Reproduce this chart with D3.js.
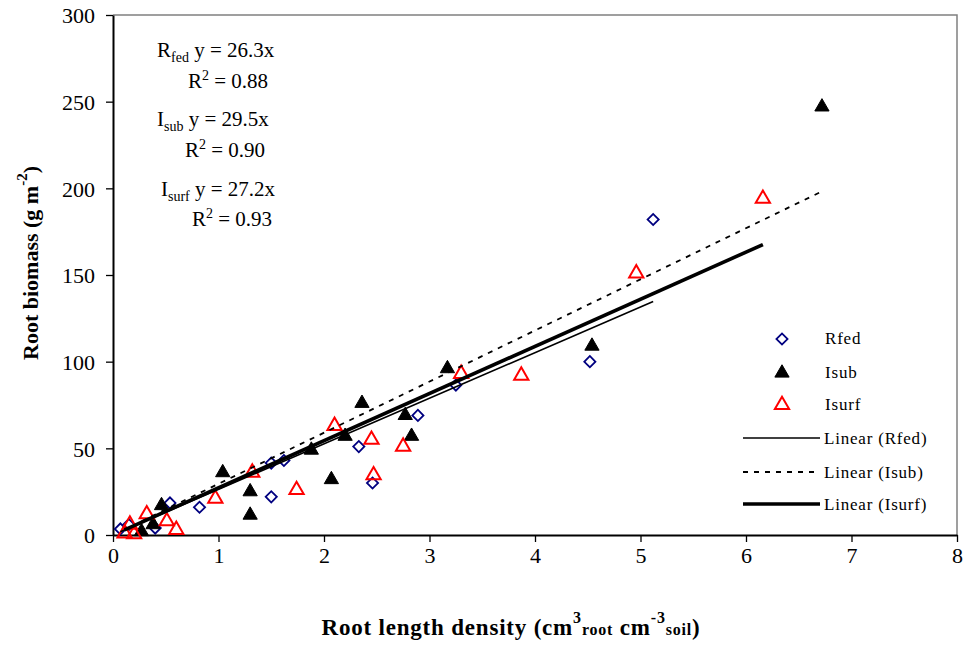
<!DOCTYPE html>
<html>
<head>
<meta charset="utf-8">
<script src="https://cdn.jsdelivr.net/npm/d3@7"></script>
<style>
  html, body { margin: 0; padding: 0; background: #fff; }
  svg { display: block; }
  svg text { font-family: "Liberation Serif", "Times New Roman", serif; fill: #000; }
</style>
</head>
<body>
<svg id="chart" width="967" height="645"></svg>
<script>
// ---- Data ----
const rfedX = [0.07, 0.15, 0.40, 0.54, 0.82, 1.50, 1.50, 1.62, 2.33, 2.46, 2.89, 3.25, 4.52, 5.12];
const rfedY = [3.5, 6, 4, 18.5, 16, 41.5, 22, 43, 51, 30, 69, 86.5, 100, 182];

const isubX = [0.27, 0.38, 0.46, 1.04, 1.30, 1.30, 1.88, 2.07, 2.20, 2.36, 2.77, 2.83, 3.17, 4.54, 6.72];
const isubY = [2, 6, 17, 36, 25, 11.5, 49, 32, 57, 76, 69, 57, 96, 109, 247];

const isurfX = [0.11, 0.16, 0.20, 0.32, 0.51, 0.60, 0.97, 1.32, 1.74, 2.10, 2.45, 2.47, 2.75, 3.30, 3.87, 4.96, 6.16];
const isurfY = [1, 6, 0.5, 12, 8, 3, 21, 36, 26, 63, 55, 34.5, 51, 93, 92, 151, 194];

const slopes = { rfed: 26.3, isub: 29.5, isurf: 27.2 };
const r2 = { rfed: "0.88", isub: "0.90", isurf: "0.93" };

const xTicks = [0, 1, 2, 3, 4, 5, 6, 7, 8];
const yTicks = [0, 50, 100, 150, 200, 250, 300];

// ---- Scales ----
const svg = d3.select("#chart");
const x = d3.scaleLinear().domain([0, 8]).range([113, 957]);
const y = d3.scaleLinear().domain([0, 300]).range([535, 15]);

// frame (top & right)
svg.append("path")
  .attr("d", `M${x(0)},${y(300)}H${x(8)}V${y(0)}`)
  .attr("fill", "none").attr("stroke", "#808080").attr("stroke-width", 1.5);

// axes
const xAxis = svg.append("g").attr("transform", `translate(0,${y(0)})`)
  .call(d3.axisBottom(x).tickValues(xTicks).tickSize(7).tickSizeOuter(0).tickFormat(d3.format("d")));
const yAxis = svg.append("g").attr("transform", `translate(${x(0)},0)`)
  .call(d3.axisLeft(y).tickValues(yTicks).tickSize(7).tickSizeOuter(0).tickFormat(d3.format("d")));
[xAxis, yAxis].forEach(g => {
  g.attr("font-family", null).attr("font-size", null);
  g.select(".domain").attr("stroke", "#000").attr("stroke-width", 2);
  g.selectAll(".tick line").attr("stroke", "#000").attr("stroke-width", 1.3);
  g.selectAll(".tick text")
    .style("font-family", "'Liberation Serif', serif").style("font-size", "22px").attr("fill", "#000");
});
xAxis.selectAll(".tick text").attr("dy", null).attr("y", 28);
yAxis.selectAll(".tick text").attr("x", -18).attr("dy", "0.35em");

// ---- markers ----
const diamond = d3.symbol().type(d3.symbolSquare).size(62);
const tri = d3.symbol().type(d3.symbolTriangle).size(88);

const gPts = svg.append("g");
gPts.selectAll(".rf").data(d3.zip(rfedX, rfedY)).join("path")
  .attr("d", diamond())
  .attr("transform", d => `translate(${x(d[0])},${y(d[1])}) rotate(45)`)
  .attr("fill", "#fff").attr("stroke", "#000080").attr("stroke-width", 1.8);
gPts.selectAll(".is").data(d3.zip(isubX, isubY)).join("path")
  .attr("d", tri())
  .attr("transform", d => `translate(${x(d[0])},${y(d[1])})`)
  .attr("fill", "#000").attr("stroke", "#000").attr("stroke-width", 1);
gPts.selectAll(".isf").data(d3.zip(isurfX, isurfY)).join("path")
  .attr("d", tri())
  .attr("transform", d => `translate(${x(d[0])},${y(d[1])})`)
  .attr("fill", "none").attr("stroke", "#ff0000").attr("stroke-width", 2);

// ---- trend lines ----
const line = d3.line().x(d => x(d[0])).y(d => y(d[1]));
function trend(xs, k) {
  const lo = d3.min(xs), hi = d3.max(xs);
  return [[lo, k * lo], [hi, k * hi]];
}
svg.append("path").attr("d", line(trend(rfedX, slopes.rfed)))
  .attr("stroke", "#000").attr("stroke-width", 1.6).attr("fill", "none");
svg.append("path").attr("d", line(trend(isubX, slopes.isub)))
  .attr("stroke", "#000").attr("stroke-width", 1.8).attr("stroke-dasharray", "5,6").attr("fill", "none");
svg.append("path").attr("d", line(trend(isurfX, slopes.isurf)))
  .attr("stroke", "#000").attr("stroke-width", 3.6).attr("fill", "none");

// ---- equations ----
const eq = svg.append("g").style("font-size", "21px");
function equation(px, py, main, sub, k, rx, ry, rv) {
  const t = eq.append("text").attr("x", px).attr("y", py);
  t.append("tspan").text(main);
  t.append("tspan").style("font-size", "14px").attr("dy", 5).text(sub);
  t.append("tspan").attr("dy", -5).text(` y = ${k}x`);
  const r = eq.append("text").attr("x", rx).attr("y", ry);
  r.append("tspan").text("R");
  r.append("tspan").style("font-size", "14px").attr("dy", -8).text("2");
  r.append("tspan").attr("dy", 8).text(` = ${rv}`);
}
equation(157, 57, "R", "fed", slopes.rfed, 188, 88, r2.rfed);
equation(157, 126, "I", "sub", slopes.isub, 185, 157, r2.isub);
equation(161, 196, "I", "surf", slopes.isurf, 192, 226, r2.isurf);

// ---- legend ----
const lg = svg.append("g").style("font-size", "17px").style("letter-spacing", "0.8px");
const legendItems = ["Rfed", "Isub", "Isurf"];
const legendRowsY = [339, 373, 405];
lg.append("path").attr("d", diamond()).attr("transform", `translate(782,${legendRowsY[0]}) rotate(45)`)
  .attr("fill", "#fff").attr("stroke", "#000080").attr("stroke-width", 1.8);
lg.append("path").attr("d", tri()).attr("transform", `translate(782,${legendRowsY[1]})`)
  .attr("fill", "#000").attr("stroke", "#000");
lg.append("path").attr("d", tri()).attr("transform", `translate(782,${legendRowsY[2]})`)
  .attr("fill", "none").attr("stroke", "#ff0000").attr("stroke-width", 2);
legendItems.forEach((s, i) => {
  lg.append("text").attr("x", 825).attr("y", legendRowsY[i] + 5).text(s);
});
const lineRowsY = [438, 472, 504];
const lineStyles = [{ w: 1.6, dash: null }, { w: 1.8, dash: "5,6" }, { w: 3.6, dash: null }];
lineRowsY.forEach((ly, i) => {
  lg.append("line").attr("x1", 743).attr("x2", 820).attr("y1", ly).attr("y2", ly)
    .attr("stroke", "#000").attr("stroke-width", lineStyles[i].w)
    .attr("stroke-dasharray", lineStyles[i].dash);
  lg.append("text").attr("x", 824).attr("y", ly + 6).text(`Linear (${legendItems[i]})`);
});

// ---- axis titles ----
const xt = svg.append("text").attr("x", 511).attr("y", 635).attr("text-anchor", "middle")
  .style("font-weight", "bold").style("font-size", "23px").style("letter-spacing", "0.8px");
xt.append("tspan").text("Root length density (cm");
xt.append("tspan").style("font-size", "16px").attr("dy", -12).text("3");
xt.append("tspan").style("font-size", "16px").attr("dy", 12).text("root");
xt.append("tspan").text(" cm");
xt.append("tspan").style("font-size", "16px").attr("dy", -12).text("-3");
xt.append("tspan").style("font-size", "16px").attr("dy", 12).text("soil");
xt.append("tspan").text(")");

const yt = svg.append("text").attr("transform", "translate(38,263) rotate(-90)")
  .attr("text-anchor", "middle").style("font-weight", "bold").style("font-size", "22px");
yt.append("tspan").text("Root biomass (g m");
yt.append("tspan").style("font-size", "15px").attr("dy", -11).text("-2");
yt.append("tspan").attr("dy", 11).text(")");
</script>
</body>
</html>
